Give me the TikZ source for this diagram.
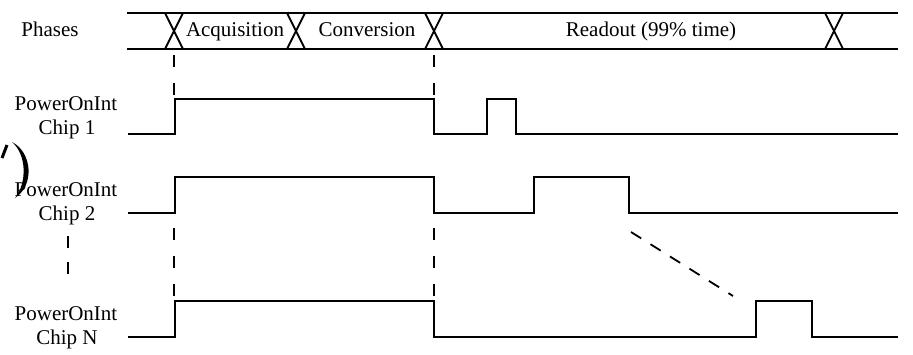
\documentclass[tikz,border=0pt]{standalone}
\usepackage{fontspec}
\setmainfont{Liberation Serif}
\begin{document}
\begin{tikzpicture}[x=1pt,y=-1pt,
  sig/.style={line width=1.8pt, line join=miter, line cap=butt},
  guide/.style={line width=1.8pt, dash pattern=on 12pt off 16pt},
  slant/.style={line width=1.8pt, dash pattern=on 12pt off 11pt},
  lbl/.style={font=\fontsize{21}{24}\selectfont, inner sep=0pt, anchor=base},
]
\useasboundingbox (0,0) rectangle (913,354);

% ---- phase bus ----
\draw[sig] (127,13) -- (898,13);
\draw[sig] (127,49) -- (898,49);
\foreach \c in {174,296,434,834}
  \draw[sig] (\c-9,13) -- (\c+9,49) (\c+9,13) -- (\c-9,49);

\node[lbl] (ph)   at (50,36)  {Phases};
\node[lbl] (acq)  at (235,36) {Acquisition};
\node[lbl] (conv) at (367,36) {Conversion};
\node[lbl] (rd)   at (651,36) {Readout (99\% time)};

% ---- signal labels ----
\node[lbl] (l1a) at (66,110) {PowerOnInt};
\node[lbl] (l1b) at (67,134) {Chip 1};
\node[lbl] (l2a) at (66,196) {PowerOnInt};
\node[lbl] (l2b) at (67,220) {Chip 2};
\node[lbl] (lNa) at (66,320) {PowerOnInt};
\node[lbl] (lNb) at (67,344) {Chip N};

% ---- waveforms ----
\draw[sig] (128,134) -- (175,134) -- (175,99) -- (434,99) -- (434,134)
  -- (487,134) -- (487,99) -- (516,99) -- (516,134) -- (898,134);
\draw[sig] (128,213) -- (175,213) -- (175,177) -- (434,177) -- (434,213)
  -- (534,213) -- (534,177) -- (629,177) -- (629,213) -- (898,213);
\draw[sig] (128,337) -- (175,337) -- (175,301) -- (434,301) -- (434,337)
  -- (756,337) -- (756,301) -- (812,301) -- (812,337) -- (898,337);

% ---- dashed phase boundaries ----
\coordinate (a1) at (174,55);  \coordinate (a2) at (174,99);
\coordinate (a3) at (174,228); \coordinate (a4) at (174,301);
\coordinate (b1) at (434,55);  \coordinate (b2) at (434,99);
\coordinate (b3) at (434,228); \coordinate (b4) at (434,301);
\draw[guide] (a1) -- (a2);
\draw[guide] (a3) -- (a4);
\draw[guide] (b1) -- (b2);
\draw[guide] (b3) -- (b4);

% ---- vertical ellipsis between chip rows ----
\coordinate (e1) at (68,236); \coordinate (e2) at (68,277);
\draw[guide, dash pattern=on 12pt off 14pt] (e1) -- (e2);

% ---- readout hand-over ----
\coordinate (d1) at (631,232); \coordinate (d2) at (733,296);
\draw[slant] (d1) -- (d2);

% ---- stray bracket mark ----
\fill (12,142) .. controls (32,152) and (35,185) .. (15,198)
      .. controls (27,183) and (27,155) .. (12,142) -- cycle;
\draw[line width=3pt] (7,145) -- (2,158);
\end{tikzpicture}
\end{document}
